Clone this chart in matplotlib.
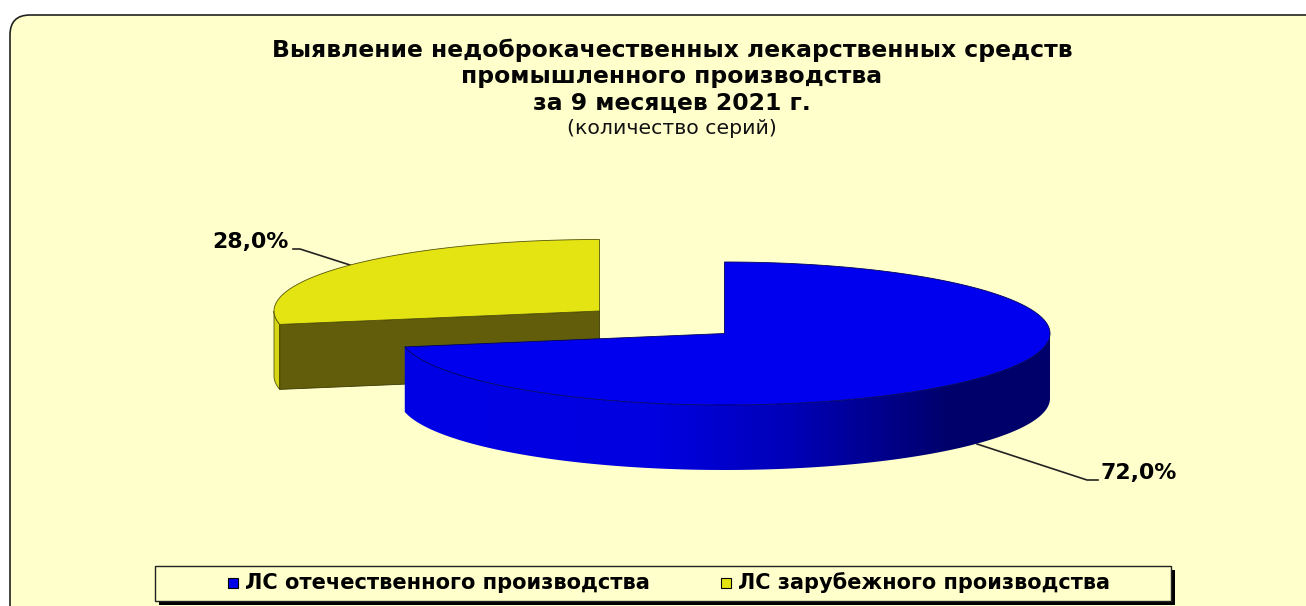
import numpy as np
import matplotlib
matplotlib.use('Agg')
import matplotlib.pyplot as plt
from matplotlib.patches import FancyBboxPatch, Polygon, Rectangle
from matplotlib.colors import LinearSegmentedColormap

plt.rcParams['font.family'] = ['DejaVu Sans']

# Data
categories = ['ЛС отечественного производства', 'ЛС зарубежного производства']
shares = [72.0, 28.0]
share_labels = ['72,0%', '28,0%']
title_lines = ['Выявление недоброкачественных лекарственных средств',
               'промышленного производства',
               'за 9 месяцев 2021 г.']
subtitle = '(количество серий)'

# Colours
panel_color = '#FFFFCC'
blue_top = '#0000EE'
yellow_top = '#E4E413'
yellow_edge = '#D6D614'
yellow_inner = '#615D0A'

# Pie geometry (pixels)
rx = 325.5
ry = 71.5
depth = 65
blue_center = (724.5, 333.5)
yellow_center = (599.5, 311)


def rim(center, start, stop, n=200):
    # points on the ellipse, angles clockwise from the top in degrees
    a = np.radians(np.linspace(start, stop, n))
    return np.column_stack([center[0] + rx * np.sin(a), center[1] - ry * np.cos(a)])


fig = plt.figure(figsize=(13.06, 6.06), dpi=100)
ax = fig.add_axes([0, 0, 1, 1])
ax.axis('off')

# Background panel
ax.add_patch(FancyBboxPatch((30, 35), 1306, 640, boxstyle='round,pad=20,rounding_size=20',
                            fc=panel_color, ec='#222222', lw=1.2, zorder=1))

# Title
title_y = [50, 77, 103]
for line, y in zip(title_lines, title_y):
    ax.text(672, y, line, ha='center', va='center', fontsize=16.9, fontweight='bold',
            color='#050505', zorder=5)
ax.text(672, 128, subtitle, ha='center', va='center', fontsize=14.7, color='#111111', zorder=5)

# Slice angles from the values
blue_sweep = 360 * shares[0] / sum(shares)

# Yellow slice, placed behind the blue one
y_rim = rim(yellow_center, blue_sweep, 360)
corner = y_rim[0]
side = np.vstack([rim(yellow_center, 270, blue_sweep, 30),
                  rim(yellow_center, blue_sweep, 270, 30) + [0, depth]])
ax.add_patch(Polygon(side, fc=yellow_edge, ec='#55550A', lw=0.6, zorder=2))
inner = [corner, yellow_center,
         (yellow_center[0], yellow_center[1] + depth),
         (corner[0], corner[1] + depth)]
ax.add_patch(Polygon(inner, fc=yellow_inner, ec='#3A3800', lw=0.6, zorder=2.1))
ax.add_patch(Polygon(np.vstack([yellow_center, y_rim]), fc=yellow_top, ec='#55550A', lw=0.6, zorder=2.2))

# Blue slice side wall with a horizontal gradient
b_front = rim(blue_center, 90, blue_sweep)
b_side = np.vstack([b_front, b_front[::-1] + [0, depth]])
side_patch = Polygon(b_side, fc='none', ec='none', lw=0.5, zorder=3.1)
ax.add_patch(side_patch)
cmap = LinearSegmentedColormap.from_list('side', [(0, '#00006A'), (0.15, '#00006A'), (0.4, '#0000B8'),
                                                  (0.6, '#0000E0'), (1, '#0000E6')])
img = ax.imshow(np.linspace(0, 1, 256)[None, :], cmap=cmap, aspect='auto', zorder=3,
                extent=(blue_center[0] + rx, blue_center[0] - rx, 480, 330))
img.set_clip_path(side_patch)

# Blue top face
b_rim = rim(blue_center, 0, blue_sweep, 400)
ax.add_patch(Polygon(np.vstack([blue_center, b_rim]), fc=blue_top, ec='#000060', lw=0.6, zorder=3.2))

# Data labels and leader lines
ax.plot([977, 1087, 1098], [444, 480, 480], color='#222222', lw=1.2, zorder=2.5)
ax.plot([293, 300, 350], [249, 249, 265], color='#222222', lw=1.2, zorder=1.5)
ax.text(1101, 473, share_labels[0], ha='left', va='center', fontsize=15.8, fontweight='bold', zorder=5)
ax.text(212, 242, share_labels[1], ha='left', va='center', fontsize=15.8, fontweight='bold', zorder=5)

# Legend box
ax.add_patch(Rectangle((159, 570), 1016, 35, fc='black', ec='none', zorder=4))
ax.add_patch(Rectangle((155, 566), 1016, 35, fc=panel_color, ec='#222222', lw=1, zorder=4.1))
ax.add_patch(Rectangle((228, 578), 10, 10, fc='#0000E8', ec='black', lw=0.8, zorder=4.2))
ax.add_patch(Rectangle((721, 578), 10, 10, fc=yellow_top, ec='black', lw=0.8, zorder=4.2))
ax.text(245, 583, categories[0], ha='left', va='center', fontsize=15.1, fontweight='bold', zorder=5)
ax.text(738, 583, categories[1], ha='left', va='center', fontsize=15.05, fontweight='bold', zorder=5)

ax.set_xlim(0, 1306)
ax.set_ylim(606, 0)
fig.savefig('out.png', dpi=100, facecolor='white')
